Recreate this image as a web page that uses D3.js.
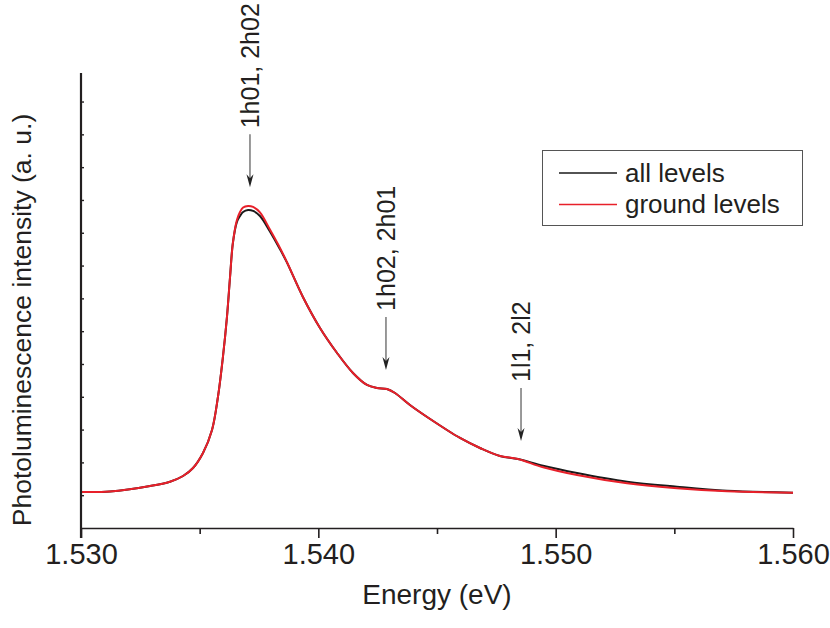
<!DOCTYPE html>
<html>
<head>
<meta charset="utf-8">
<script src="https://cdn.jsdelivr.net/npm/d3@7"></script>
<style>
  html, body { margin: 0; padding: 0; background: #fff; }
  svg { display: block; font-family: "Liberation Sans", Arial, sans-serif; }
</style>
</head>
<body>
<svg id="chart" width="830" height="628"></svg>
<script>
// ---- data ----
const energy = [1.53000, 1.53122, 1.53291, 1.53375, 1.53430, 1.53472, 1.53514, 1.53552, 1.53577, 1.53598,
  1.53615, 1.53628, 1.53640, 1.53657, 1.53670, 1.53683, 1.53704, 1.53725, 1.53754, 1.53796,
  1.53839, 1.53868, 1.53935, 1.54007, 1.54079, 1.54146, 1.54205, 1.54247, 1.54289, 1.54323,
  1.54386, 1.54471, 1.54597, 1.54681, 1.54765, 1.54841, 1.54947, 1.55090, 1.55301, 1.55511,
  1.55722, 1.56000];
const allLevels = [1.098, 1.113, 1.280, 1.412, 1.585, 1.829, 2.287, 2.988, 3.994, 5.213,
  6.433, 7.652, 8.689, 9.330, 9.510, 9.634, 9.695, 9.665, 9.510, 9.040,
  8.490, 8.090, 7.043, 6.098, 5.335, 4.726, 4.360, 4.268, 4.238, 4.116,
  3.750, 3.323, 2.744, 2.439, 2.195, 2.104, 1.899, 1.677, 1.412, 1.259,
  1.137, 1.076];
const groundLevels = [1.098, 1.113, 1.280, 1.412, 1.585, 1.829, 2.287, 2.988, 3.994, 5.213,
  6.433, 7.652, 8.689, 9.390, 9.634, 9.771, 9.817, 9.787, 9.619, 9.100,
  8.530, 8.100, 7.043, 6.098, 5.335, 4.726, 4.360, 4.268, 4.238, 4.116,
  3.750, 3.323, 2.744, 2.439, 2.195, 2.104, 1.851, 1.616, 1.363, 1.210,
  1.119, 1.076];
const seriesNames = ["all levels", "ground levels"];
const seriesColors = ["#1a1a1a", "#e8202a"];
const xMajorTicks = [1.530, 1.540, 1.550, 1.560];
const xMinorTicks = [1.535, 1.545, 1.555];
const yTicks = [1, 2, 3, 4, 5, 6, 7, 8, 9, 10, 11, 12, 13];
const annotLabels = ["1h01, 2h02", "1h02, 2h01", "1l1, 2l2"];
const annotEnergy = [1.53712, 1.54285, 1.54854];

// ---- layout ----
const svg = d3.select("#chart");
const mLeft = 81, mRight = 793, mTop = 73, mBottom = 528;
const x = d3.scaleLinear().domain([1.530, 1.560]).range([mLeft, mRight]);
const y = d3.scaleLinear().domain([0, 13.87]).range([mBottom, mTop]);
const axisColor = "#231f20";

// curves
const series = [allLevels, groundLevels];
const line = d3.line().curve(d3.curveCatmullRom.alpha(0.5));
series.forEach((vals, i) => {
  svg.append("path")
    .attr("d", line(energy.map((e, k) => [x(e), y(vals[k])])))
    .attr("fill", "none")
    .attr("stroke", seriesColors[i])
    .attr("stroke-width", 2)
    .attr("stroke-linejoin", "round");
});

// x axis
const gx = svg.append("g").attr("transform", `translate(0,${mBottom})`);
gx.call(d3.axisBottom(x).tickValues(xMajorTicks).tickFormat(d3.format(".3f")).tickSize(10).tickSizeOuter(0))
  .call(g => g.select(".domain").attr("stroke", axisColor).attr("stroke-width", 1.6))
  .call(g => g.selectAll(".tick line").attr("stroke", axisColor).attr("stroke-width", 1.6))
  .call(g => g.selectAll(".tick text").attr("fill", axisColor).attr("font-size", 29)
    .attr("font-family", "Liberation Sans, Arial, sans-serif").attr("dy", "0.95em").attr("y", 8));
const gxm = svg.append("g").attr("transform", `translate(0,${mBottom})`);
gxm.call(d3.axisBottom(x).tickValues(xMinorTicks).tickFormat("").tickSize(6).tickSizeOuter(0))
  .call(g => g.select(".domain").remove())
  .call(g => g.selectAll(".tick line").attr("stroke", axisColor).attr("stroke-width", 1.6));

// y axis (inward minor ticks, no labels)
const gy = svg.append("g").attr("transform", `translate(${mLeft},0)`);
gy.call(d3.axisRight(y).tickValues(yTicks).tickFormat("").tickSize(3).tickSizeOuter(0))
  .call(g => g.select(".domain").attr("stroke", axisColor).attr("stroke-width", 2.2)
    .attr("d", `M0,${mTop}V${mBottom + 10}`))
  .call(g => g.selectAll(".tick line").attr("stroke", axisColor).attr("stroke-width", 1.4));

// axis titles
svg.append("text")
  .attr("x", (mLeft + mRight) / 2).attr("y", 604)
  .attr("text-anchor", "middle").attr("font-size", 28).attr("fill", axisColor)
  .text("Energy (eV)");
svg.append("text")
  .attr("transform", "translate(31,320) rotate(-90)")
  .attr("text-anchor", "middle").attr("font-size", 26.5).attr("fill", axisColor)
  .text("Photoluminescence intensity (a. u.)");

// annotations
const bisect = d3.bisector(d => d).left;
function valueAt(e) {
  const i = Math.min(Math.max(bisect(energy, e), 1), energy.length - 1);
  const t = (e - energy[i - 1]) / (energy[i] - energy[i - 1]);
  return groundLevels[i - 1] + t * (groundLevels[i] - groundLevels[i - 1]);
}
annotLabels.forEach((lab, i) => {
  const ax = x(annotEnergy[i]);
  const tip = y(valueAt(annotEnergy[i])) - 19;
  const start = tip - 53;
  const g = svg.append("g");
  g.append("line").attr("x1", ax).attr("x2", ax).attr("y1", start).attr("y2", tip - 6)
    .attr("stroke", "#555").attr("stroke-width", 1.2);
  g.append("path")
    .attr("d", `M${ax},${tip} L${ax - 3.5},${tip - 13} L${ax},${tip - 9} L${ax + 3.5},${tip - 13} Z`)
    .attr("fill", "#222");
  g.append("text")
    .attr("transform", `translate(${ax},${start - 6}) rotate(-90)`)
    .attr("text-anchor", "start").attr("dy", "0.36em")
    .attr("font-size", 25).attr("fill", axisColor)
    .text(lab);
});

// legend
const lg = svg.append("g");
lg.append("rect").attr("x", 542.5).attr("y", 150.5).attr("width", 260).attr("height", 75)
  .attr("fill", "#fff").attr("stroke", "#555").attr("stroke-width", 1);
seriesNames.forEach((name, i) => {
  const ly = 173 + i * 31.5;
  lg.append("line").attr("x1", 559).attr("x2", 617).attr("y1", ly).attr("y2", ly)
    .attr("stroke", seriesColors[i]).attr("stroke-width", 1.5);
  lg.append("text").attr("x", 625).attr("y", ly).attr("dy", "0.33em")
    .attr("font-size", 26).attr("fill", axisColor).text(name);
});
</script>
</body>
</html>
